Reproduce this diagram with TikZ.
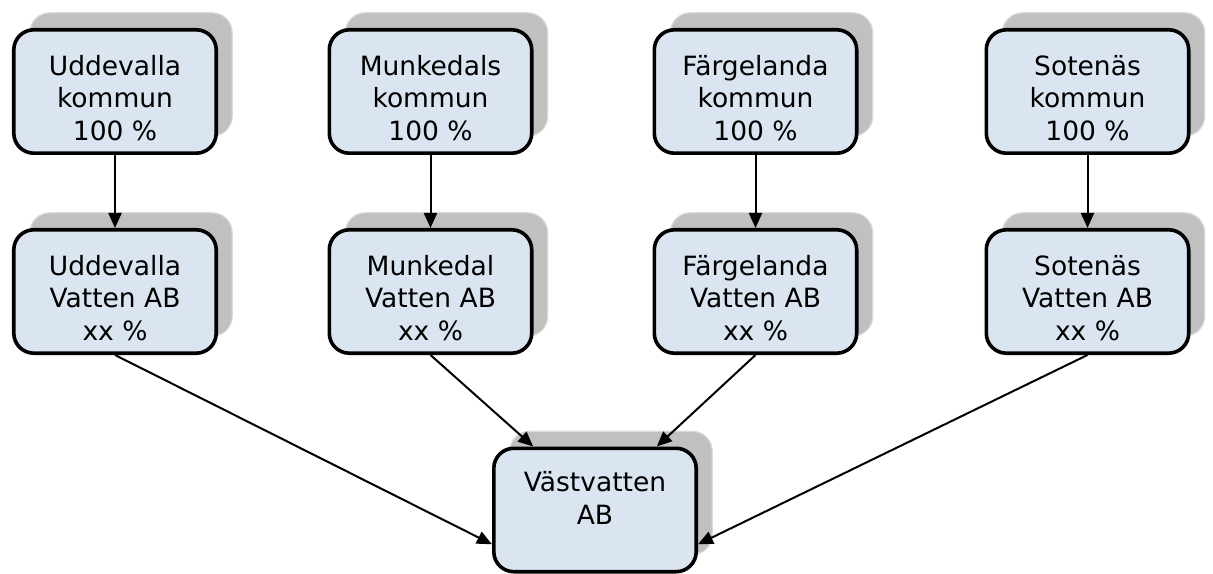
\documentclass[tikz,border=0pt]{standalone}
\usepackage{fontspec}
\setmainfont{DejaVu Sans}
\usetikzlibrary{shadows,arrows.meta,calc}
\definecolor{boxfill}{HTML}{DBE5F1}
\definecolor{shadowfill}{HTML}{C0C0C0}
\definecolor{shadowedge}{HTML}{DADADA}
\begin{document}
\begin{tikzpicture}[x=1bp,y=-1bp,
  orgbox/.style={draw=black, line width=3.6bp, fill=boxfill, rounded corners=20bp,
    minimum width=202.4bp, minimum height=123.4bp, inner sep=0pt,
    general shadow={shadow xshift=16bp, shadow yshift=17bp, fill=shadowfill, draw=shadowedge, line width=1.2bp}},
  boxtext/.style={anchor=north, align=center, inner sep=0pt, yshift=-27bp,
    font=\fontsize{26.5bp}{32.5bp}\selectfont},
  link/.style={draw=black, line width=2bp, -{Triangle[length=15bp,width=13bp]}}]
\useasboundingbox (0,0) rectangle (1213,574);

% top row
\node[orgbox] (k1) at (115,91.5) {};
\node[orgbox] (k2) at (430.5,91.5) {};
\node[orgbox] (k3) at (755.5,91.5) {};
\node[orgbox] (k4) at (1087.5,91.5) {};
% second row
\node[orgbox] (a1) at (115,291.5) {};
\node[orgbox] (a2) at (430.5,291.5) {};
\node[orgbox] (a3) at (755.5,291.5) {};
\node[orgbox] (a4) at (1087.5,291.5) {};
% bottom
\node[orgbox] (w) at (595,510) {};

\node[boxtext] (tk1) at (k1.north) {Uddevalla\\kommun\\100 \%};
\node[boxtext] (tk2) at (k2.north) {Munkedals\\kommun\\100 \%};
\node[boxtext] (tk3) at (k3.north) {Färgelanda\\kommun\\100 \%};
\node[boxtext] (tk4) at (k4.north) {Sotenäs\\kommun\\100 \%};
\node[boxtext] (ta1) at (a1.north) {Uddevalla\\Vatten AB\\xx \%};
\node[boxtext] (ta2) at (a2.north) {Munkedal\\Vatten AB\\xx \%};
\node[boxtext] (ta3) at (a3.north) {Färgelanda\\Vatten AB\\xx \%};
\node[boxtext] (ta4) at (a4.north) {Sotenäs\\Vatten AB\\xx \%};
\node[boxtext, yshift=2bp] (tw) at (w.north) {Västvatten\\AB};

\draw[link] (k1) -- (a1);
\draw[link] (k2) -- (a2);
\draw[link] (k3) -- (a3);
\draw[link] (k4) -- (a4);

\draw[link] (a1.south) -- ($(w.south west)!0.23!(w.north west)$);
\draw[link] (a2.south) -- ($(w.north west)!0.2!(w.north east)$);
\draw[link] (a3.south) -- ($(w.north west)!0.8!(w.north east)$);
\draw[link] (a4.south) -- ($(w.south east)!0.23!(w.north east)$);
\end{tikzpicture}
\end{document}
